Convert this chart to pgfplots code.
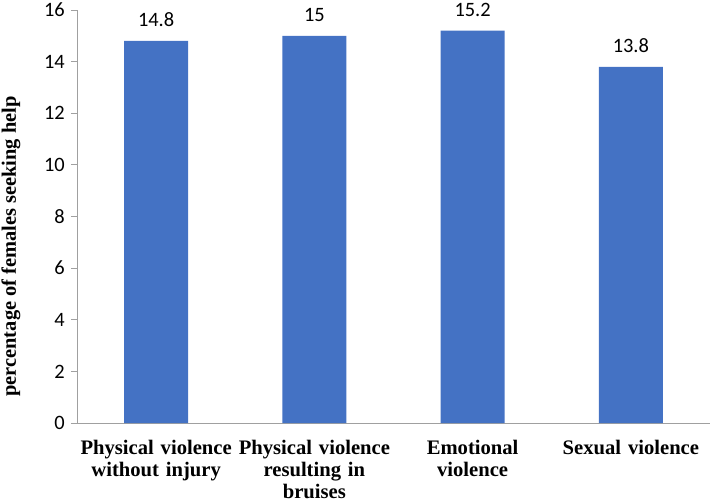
\documentclass[border=0pt]{standalone}
\usepackage{fontspec}
\setmainfont{Liberation Serif}
\newfontfamily\calibri{Carlito}
\usepackage{pgfplots}
\pgfplotsset{compat=1.18}
\definecolor{barblue}{HTML}{4472C4}
\definecolor{axgray}{HTML}{A0A0A0}
\begin{document}
\begin{tikzpicture}
\begin{axis}[
  name=ax,
  scale only axis,
  width=633bp, height=413bp,
  xmin=-0.5, xmax=3.5,
  ymin=0, ymax=16,
  ytick={0,2,...,16},
  xtick={0,1,2,3},
  xticklabels={Physical violence\\without injury, Physical violence\\resulting in\\bruises, Emotional\\violence, Sexual violence},
  extra x ticks={-0.5,0.5,1.5,2.5,3.5},
  extra x tick labels={},
  extra x tick style={major tick length=6bp, tick style={axgray, line width=0.8pt}},
  x tick style={draw=none},
  major tick length=6bp,
  tick align=outside,
  y tick style={axgray, line width=0.8pt},
  axis x line*=bottom,
  axis y line*=left,
  axis line style={axgray, line width=0.8pt, -},
  /pgf/number format/assume math mode=true,
  yticklabel style={font=\calibri\fontsize{20.5}{24}\selectfont, black, inner sep=0pt, xshift=-6bp},
  xticklabel style={font=\bfseries\fontsize{20.7}{22}\selectfont, text width=158bp, align=center, inner sep=0pt, yshift=-11bp},
  ylabel={percentage of females seeking help},
  ylabel style={font=\bfseries\fontsize{20.5}{24}\selectfont, at={(axis description cs:0,0.5)}, anchor=center, xshift=-30bp, yshift=66bp},
  ybar, bar width=0.405,
  nodes near coords,
  every node near coord/.append style={font=\calibri\fontsize{20.5}{24}\selectfont, black, inner sep=0pt, anchor=south, yshift=14bp},
  /pgf/number format/.cd, fixed, precision=1,
]
\addplot[fill=barblue, draw=none] coordinates {(0,14.8) (1,15) (2,15.2) (3,13.8)};
\end{axis}
\pgfresetboundingbox
\path ([xshift=-77bp,yshift=-79bp]ax.south west) rectangle ([xshift=2bp,yshift=10bp]ax.north east);
\end{tikzpicture}
\end{document}
